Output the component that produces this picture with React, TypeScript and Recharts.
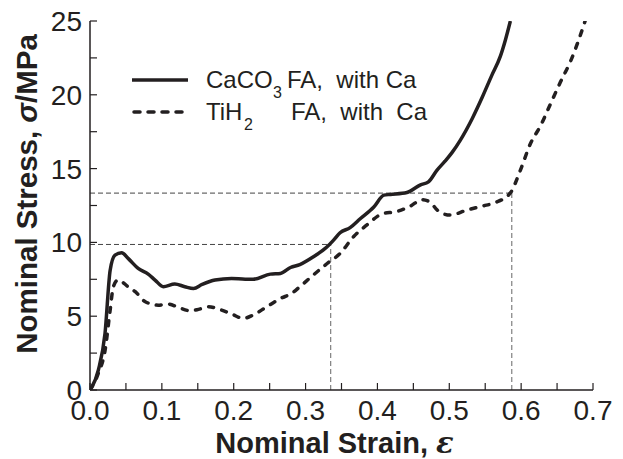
import { LineChart, Line, XAxis, YAxis, ReferenceLine, Legend } from 'recharts';

// CaCO3 foaming agent, with Ca (solid)
const caco3Strain = [
  0, 0.0116, 0.0209, 0.028, 0.0348, 0.044, 0.0534, 0.067, 0.081, 0.0905, 0.102, 0.118, 0.132, 0.144,
  0.156, 0.174, 0.197, 0.216, 0.227, 0.251, 0.265, 0.279, 0.292, 0.311, 0.33, 0.339, 0.348, 0.362,
  0.376, 0.395, 0.409, 0.418, 0.441, 0.46, 0.471, 0.483, 0.494, 0.504, 0.515, 0.532, 0.546, 0.559,
  0.571, 0.578, 0.585,
];
const caco3Stress = [
  0, 1.35, 3.84, 8.1, 9.14, 9.3, 8.9, 8.24, 7.85, 7.45, 7.0, 7.18, 7.0, 6.88,
  7.15, 7.45, 7.56, 7.5, 7.5, 7.85, 7.9, 8.3, 8.5, 9.03, 9.7, 10.15, 10.65, 11.0,
  11.6, 12.4, 13.2, 13.25, 13.38, 13.9, 14.1, 14.9, 15.5, 16.1, 16.9, 18.4, 19.85, 21.3,
  22.6, 23.7, 25,
];

// TiH2 foaming agent, with Ca (dashed)
const tih2Strain = [
  0, 0.0116, 0.021, 0.028, 0.0325, 0.039, 0.053, 0.063, 0.077, 0.095, 0.109, 0.123, 0.139, 0.151,
  0.165, 0.183, 0.197, 0.2135, 0.227, 0.246, 0.265, 0.281, 0.292, 0.311, 0.33, 0.348, 0.367, 0.385,
  0.408, 0.425, 0.446, 0.462, 0.474, 0.483, 0.501, 0.525, 0.546, 0.564, 0.585, 0.599, 0.613, 0.627,
  0.641, 0.655, 0.669, 0.68, 0.689,
];
const tih2Stress = [
  0, 1.13, 2.7, 5.4, 7.0, 7.45, 7.0, 6.66, 5.98, 5.75, 5.82, 5.6, 5.37, 5.46,
  5.64, 5.42, 5.15, 4.85, 5.08, 5.64, 6.2, 6.55, 7.0, 7.8, 8.57, 9.25, 10.4, 11.17,
  11.96, 12.07, 12.46, 12.9, 12.7, 12.2, 11.85, 12.2, 12.46, 12.7, 13.35, 14.9, 16.7, 17.9,
  19.4, 20.9, 22.3, 23.7, 25,
];

// guide lines (plateau end / densification points)
const guideStrain = [0.335, 0.587];
const guideStress = [9.86, 13.34];

const xTicks = [0, 0.1, 0.2, 0.3, 0.4, 0.5, 0.6, 0.7];
const xMinorTicks = [0, 0.05, 0.1, 0.15, 0.2, 0.25, 0.3, 0.35, 0.4, 0.45, 0.5, 0.55, 0.6, 0.65, 0.7];
const yTicks = [0, 5, 10, 15, 20, 25];
const yMinorTicks = [0, 2.5, 5, 7.5, 10, 12.5, 15, 17.5, 20, 22.5, 25];

const caco3Data = caco3Strain.map((x, i) => ({ strain: x, stress: caco3Stress[i] }));
const tih2Data = tih2Strain.map((x, i) => ({ strain: x, stress: tih2Stress[i] }));

const INK = '#231f20';
const FONT = '"Liberation Sans", Arial, Helvetica, sans-serif';
const tickFont = { fontSize: 28, fill: INK, fontFamily: FONT };
const noLabel = () => <g />;

function XTitle(props: any) {
  const { x, y, width } = props.viewBox;
  return (
    <text x={x + width / 2 - 7} y={y + 63} textAnchor="middle" fontSize={29} fontWeight="bold" fill={INK} fontFamily={FONT}>
      Nominal Strain,{' '}
      <tspan fontFamily='"DejaVu Serif", serif' fontStyle="italic">ε</tspan>
    </text>
  );
}

function YTitle(props: any) {
  const { x } = props.viewBox;
  const cx = x + 37;
  const cy = 194;
  return (
    <text x={cx} y={cy} transform={`rotate(-90 ${cx} ${cy})`} textAnchor="middle" fontSize={29.5} fontWeight="bold" fill={INK} fontFamily={FONT}>
      Nominal Stress, <tspan fontStyle="italic">σ</tspan>/MPa
    </text>
  );
}

function LegendBox() {
  const txt = { fontSize: 24, fill: INK, fontFamily: FONT };
  const sub = { fontSize: 16, fill: INK, fontFamily: FONT };
  return (
    <svg width={623} height={140} style={{ display: 'block' }}>
      <line x1={132} x2={188} y1={80} y2={80} stroke={INK} strokeWidth={3.5} />
      <line x1={134} x2={188} y1={112} y2={112} stroke={INK} strokeWidth={3.5} strokeDasharray="6 8" strokeLinecap="round" />
      <text x={206} y={88} {...txt}>CaCO</text>
      <text x={273} y={98} {...sub}>3</text>
      <text x={287} y={88} {...txt} style={{ whiteSpace: 'pre' }}>FA,  with Ca</text>
      <text x={206} y={120} {...txt}>TiH</text>
      <text x={244} y={130} {...sub}>2</text>
      <text x={291} y={120} {...txt} style={{ whiteSpace: 'pre' }}>FA,  with  Ca</text>
    </svg>
  );
}

export default function App() {
  return (
    <div style={{ width: 623, height: 459, background: '#fff' }}>
      <style>{'body{margin:0}'}</style>
      <LineChart width={623} height={459} margin={{ top: 21, right: 30, bottom: 0, left: 0 }}>
        <XAxis
          type="number"
          dataKey="strain"
          domain={[0, 0.7]}
          ticks={xTicks}
          tickFormatter={(v) => v.toFixed(1)}
          tick={tickFont}
          tickLine={false}
          tickSize={0}
          tickMargin={10}
          height={69}
          axisLine={{ stroke: INK, strokeWidth: 1.5 }}
          allowDataOverflow
          label={XTitle}
        />
        <XAxis
          xAxisId="minor"
          type="number"
          dataKey="strain"
          domain={[0, 0.7]}
          ticks={xMinorTicks}
          mirror
          tick={noLabel}
          axisLine={false}
          tickSize={7}
          tickLine={{ stroke: INK, strokeWidth: 1.2 }}
          allowDataOverflow
        />
        <YAxis
          type="number"
          domain={[0, 25]}
          ticks={yTicks}
          tick={tickFont}
          tickLine={false}
          tickSize={0}
          tickMargin={8}
          width={90}
          axisLine={{ stroke: INK, strokeWidth: 1.5 }}
          allowDataOverflow
          label={YTitle}
        />
        <YAxis
          yAxisId="minor"
          type="number"
          domain={[0, 25]}
          ticks={yMinorTicks}
          mirror
          tick={noLabel}
          axisLine={false}
          tickSize={7}
          tickLine={{ stroke: INK, strokeWidth: 1.2 }}
          allowDataOverflow
        />
        <ReferenceLine segment={[{ x: 0, y: guideStress[0] }, { x: guideStrain[0], y: guideStress[0] }]} stroke="#444" strokeWidth={1} strokeDasharray="5 3" />
        <ReferenceLine segment={[{ x: guideStrain[0], y: 0 }, { x: guideStrain[0], y: guideStress[0] }]} stroke="#666" strokeWidth={1} strokeDasharray="5 3" />
        <ReferenceLine segment={[{ x: 0, y: guideStress[1] }, { x: guideStrain[1], y: guideStress[1] }]} stroke="#444" strokeWidth={1} strokeDasharray="5 3" />
        <ReferenceLine segment={[{ x: guideStrain[1], y: 0 }, { x: guideStrain[1], y: guideStress[1] }]} stroke="#666" strokeWidth={1} strokeDasharray="5 3" />
        <Line
          data={caco3Data}
          dataKey="stress"
          type="monotone"
          stroke={INK}
          strokeWidth={3.5}
          dot={false}
          isAnimationActive={false}
        />
        <Line
          data={tih2Data}
          dataKey="stress"
          type="monotone"
          stroke={INK}
          strokeWidth={3.5}
          strokeDasharray="5 8.5"
          strokeLinecap="round"
          dot={false}
          isAnimationActive={false}
        />
        <Legend
          layout="vertical"
          align="center"
          verticalAlign="middle"
          wrapperStyle={{ left: 0, top: 0, width: 623, height: 140 }}
          content={() => <LegendBox />}
        />
      </LineChart>
    </div>
  );
}
